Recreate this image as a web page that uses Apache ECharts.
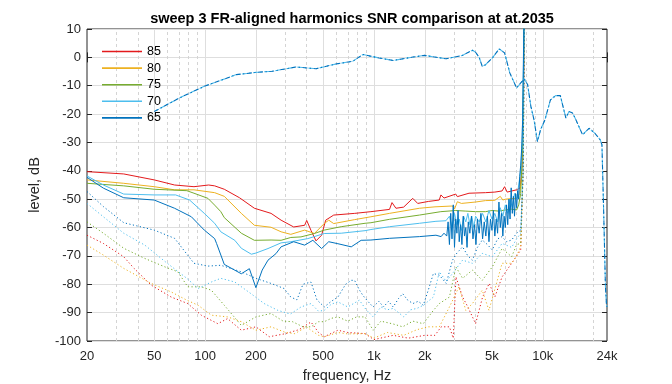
<!DOCTYPE html>
<html><head><meta charset="utf-8">
<script src="https://cdn.jsdelivr.net/npm/echarts@6/dist/echarts.min.js"></script>
<style>html,body{margin:0;padding:0;background:#fff}#c{width:672px;height:384px}</style>
</head><body><div id="c"></div>
<script>
// ---------- data ----------
const levels = ['85', '80', '75', '70', '65'];
const xTicks = [20, 50, 100, 200, 500, 1000, 2000, 5000, 10000, 24000];
const xTickLabels = ['20', '50', '100', '200', '500', '1k', '2k', '5k', '10k', '24k'];
const xMinorGrid = [30, 40, 60, 70, 80, 90, 300, 400, 600, 700, 800, 900, 3000, 4000, 6000, 7000, 8000, 9000, 20000];

const frResponse = [[50,-19.1],[70,-14.4],[99,-10.2],[153,-6.1],[200,-5.3],[250,-4.9],[345,-3.4],[454,-4],[600,-2.3],[748,-1.4],[860,1],[1070,-0.2],[1300,-1.1],[1700,0.1],[2000,0.7],[2670,-0.5],[3350,0.7],[3830,2.5],[4000,1.8],[4200,0],[4380,-3.2],[4580,-2.6],[5030,-0.2],[5520,3],[5940,1.6],[6380,-5.5],[7000,-10.8],[7400,-9],[7770,-7.6],[8130,-9.6],[8500,-17.3],[8870,-22],[9300,-29.7],[9700,-25.5],[10300,-22],[11100,-15],[11900,-13.5],[12700,-13.5],[13700,-21.4],[14300,-19.1],[15000,-19.6],[15700,-22],[17200,-27.3],[18800,-25],[20300,-26.7],[21900,-29.1],[22400,-30.8],[23000,-57.4],[23500,-81],[23800,-86.7],[24000,-88]];

const solid85 = [[20,-40.3],[33,-41.1],[50,-43.2],[66,-45],[86,-45.6],[105,-45],[114,-45.3],[130,-46.5],[160,-49.5],[196,-53.2],[246,-55],[282,-57.4],[335,-59.8],[389,-59.2],[400,-57.5],[424,-61],[454,-64.7],[490,-62.7],[518,-57.4],[578,-55.6],[770,-55],[960,-54.4],[1237,-53.6],[1280,-51.2],[1350,-53.2],[1500,-52.8],[1698,-49.7],[1817,-51.5],[2100,-50.8],[2437,-50.3],[2493,-48.5],[2600,-49.6],[3051,-48.2],[3120,-49.1],[3657,-47.9],[4578,-47.7],[5200,-47.5],[5740,-47.1],[5940,-45.6],[6150,-47.5],[7000,-46.7],[7350,-46],[7550,-38],[7700,-10],[7800,20]];
const solid80 = [[20,-43.2],[33,-44.4],[50,-45.6],[66,-46.7],[86,-46.7],[114,-47.7],[130,-49],[164,-55],[196,-59.2],[246,-59.9],[282,-61.5],[322,-62.4],[389,-60.9],[444,-62.1],[508,-58.6],[540,-57.4],[578,-58.6],[770,-57.2],[960,-56.2],[1237,-55],[1860,-53.2],[2300,-52.7],[2920,-52.4],[3000,-53.5],[3120,-50.9],[3300,-51.5],[4000,-51],[4578,-50.5],[5200,-50.4],[5600,-49],[5800,-50.3],[6000,-50],[6500,-49.8],[7000,-49.7],[7300,-48],[7500,-42],[7650,-20],[7750,20]];
const solid75 = [[20,-44.4],[33,-45.3],[50,-46.5],[78,-47],[86,-47.9],[104,-49.7],[114,-52.1],[124,-54.4],[130,-56.5],[164,-62],[196,-64.5],[246,-64.4],[282,-64.5],[322,-63.5],[370,-63.3],[444,-62.1],[508,-60.9],[640,-59.7],[886,-58.5],[960,-58.3],[1237,-57.1],[1860,-55.6],[2490,-54.4],[3051,-54],[3500,-54.2],[4000,-54.4],[4578,-54.4],[5000,-54],[5500,-54.2],[6000,-53.8],[6500,-53.5],[7000,-53.8],[7200,-52],[7400,-48],[7600,-30],[7750,10],[7800,20]];
const solid70 = [[20,-41.8],[25,-45],[33,-48.2],[50,-48.5],[67,-48.5],[81,-50.3],[99,-55],[114,-58.5],[124,-61.5],[150,-64.5],[164,-67.3],[188,-69.4],[200,-69],[236,-67.4],[282,-65.4],[322,-65],[406,-63.9],[508,-62.1],[640,-62],[886,-61.1],[960,-60.7],[1237,-59.7],[1860,-58.5],[2330,-57.8],[2670,-57.6],[2800,-56],[2900,-60],[3000,-55],[3100,-59],[3200,-57],[3300,-61],[3400,-56],[3500,-58],[3600,-55],[3700,-59],[3800,-56],[3900,-60],[4000,-56],[4200,-58],[4400,-55],[4600,-58],[4800,-54],[5000,-57],[5200,-55],[5400,-58],[5600,-53],[5800,-56],[6000,-52],[6200,-55],[6400,-50],[6600,-53],[6800,-48],[7000,-50],[7200,-45],[7400,-40],[7550,-30],[7700,0],[7780,20]];
const solid65 = [[20,-42.3],[25,-46.1],[33,-49.5],[50,-50.3],[66,-53.2],[83,-56.2],[99,-60.9],[114,-63.9],[117,-65.6],[130,-73],[164,-76.3],[183,-74.5],[200,-81.2],[218,-75],[236,-71.5],[263,-69.2],[282,-66.8],[335,-65],[389,-66.2],[435,-64.5],[490,-67.4],[540,-65],[612,-65.7],[734,-66.8],[840,-64.5],[960,-64.4],[1237,-63.8],[1860,-63.2],[2330,-62.7],[2500,-63.2],[2600,-62],[2700,-63],[2750,-58],[2800,-66],[2850,-55],[2900,-64],[2950,-52],[3000,-67],[3050,-57],[3100,-62],[3150,-54],[3200,-65],[3260,-59],[3320,-66],[3380,-56],[3440,-63],[3500,-60],[3560,-67],[3620,-58],[3700,-62],[3780,-56],[3860,-64],[3940,-59],[4020,-66],[4100,-57],[4200,-62],[4300,-55],[4400,-64],[4500,-58],[4600,-63],[4700,-56],[4800,-65],[4900,-57],[5000,-61],[5100,-54],[5200,-63],[5300,-57],[5400,-62],[5500,-51],[5600,-60],[5700,-55],[5800,-63],[5900,-56],[6000,-60],[6100,-52],[6200,-59],[6300,-50],[6400,-57],[6500,-46],[6600,-55],[6700,-49],[6800,-56],[6900,-48],[7000,-53],[7100,-47],[7200,-50],[7300,-42],[7400,-38],[7500,-32],[7600,-22],[7700,5],[7750,20]];

const dotted85 = [[20,-62.7],[25,-65.6],[33,-70.3],[38,-74.4],[48,-80.3],[63,-84.5],[79,-86.8],[95,-90.9],[119,-93.9],[136,-92.1],[164,-96.2],[200,-95],[240,-98.5],[300,-97.4],[360,-96],[424,-93.3],[470,-97],[508,-98.5],[612,-96.2],[700,-97],[886,-97.4],[1000,-99.5],[1300,-98],[1600,-99],[2000,-98],[2300,-98],[2500,-95],[2800,-95],[2950,-99],[3060,-77.4],[3350,-84.5],[3600,-88],[4000,-93.9],[4400,-84.5],[4820,-79.7],[5200,-84.5],[5740,-77.4],[6540,-72.6],[7000,-70],[7400,-67.9],[7650,-40],[7800,20]];
const dotted80 = [[20,-66.2],[25,-69.7],[33,-74.4],[48,-79.7],[63,-82.7],[78,-85.6],[91,-87.4],[109,-90.9],[136,-91.5],[164,-93.2],[200,-96.2],[246,-95],[300,-97],[340,-97.4],[400,-95],[424,-96.2],[470,-98],[508,-98.5],[612,-97],[700,-97.5],[886,-97.4],[1000,-99],[1200,-97],[1500,-98],[1800,-96],[2100,-95],[2440,-95],[2800,-88],[3190,-80.9],[3500,-89.2],[3830,-86.8],[4380,-82.1],[4800,-89.2],[5740,-72.6],[6540,-72.6],[7000,-70],[7400,-66.7],[7650,-40],[7800,20]];
const dotted75 = [[20,-58],[25,-62],[33,-67.3],[44,-70.9],[58,-73.9],[69,-75.6],[79,-80.9],[95,-80.9],[109,-82.1],[130,-87.4],[164,-94.5],[200,-91.5],[246,-90.3],[290,-93],[330,-93.2],[380,-95],[424,-95],[470,-93.2],[508,-93.2],[560,-92],[612,-91.5],[700,-93],[790,-91.5],[886,-91.5],[990,-96.2],[1100,-93],[1300,-94],[1480,-95],[1700,-93],[1960,-93.9],[2250,-89.2],[2440,-86.8],[2800,-84.5],[3060,-73.9],[3350,-77.9],[3830,-75],[4380,-78.6],[5020,-73.9],[5740,-67.4],[6540,-70.3],[7000,-66],[7400,-65.6],[7650,-40],[7800,20]];
const dotted70 = [[20,-51.5],[25,-56.2],[33,-62],[44,-66.2],[58,-72],[78,-77.9],[91,-81.5],[109,-79.2],[124,-77.9],[150,-79.2],[187,-83.3],[224,-86.8],[270,-89.2],[320,-90.5],[370,-88],[424,-86.8],[470,-89.5],[508,-89.2],[560,-87],[612,-86.2],[700,-88],[820,-85.6],[900,-89],[990,-91.5],[1100,-88],[1200,-89],[1300,-88.5],[1400,-90],[1500,-91.5],[1650,-89],[1800,-88.5],[1960,-87.4],[2250,-84.5],[2440,-75.6],[2680,-79],[2920,-76.2],[3350,-71.5],[3830,-72.6],[4380,-69.1],[5020,-70.3],[5740,-65.6],[6540,-67],[7000,-64],[7400,-62],[7650,-40],[7800,20]];
const dotted65 = [[20,-47.3],[25,-52.6],[33,-58.3],[50,-60.9],[66,-63.8],[86,-72.6],[104,-73.6],[124,-73.3],[164,-75.6],[200,-77.9],[246,-79.7],[294,-81.5],[322,-84.5],[350,-85.5],[380,-80],[424,-79.2],[460,-85.5],[508,-88],[560,-86],[612,-84.5],[680,-80],[734,-78.6],[768,-78.6],[820,-82],[860,-83.9],[920,-86],[989,-88],[1070,-86],[1140,-88],[1220,-86],[1300,-88],[1400,-85],[1480,-83.3],[1580,-85.5],[1700,-86.8],[1830,-86],[1960,-87.4],[2100,-82],[2250,-76.2],[2440,-76.8],[2680,-79.7],[2920,-71.5],[3100,-69],[3350,-66.8],[3600,-70],[3830,-71.5],[4100,-67],[4380,-64.4],[4700,-66],[5020,-67.9],[5400,-64],[5740,-63.2],[6100,-65],[6540,-64.4],[7000,-62],[7400,-60.9],[7650,-40],[7800,20]];

// ---------- style ----------
const colors = ['#E31A1C', '#EDB120', '#77AC30', '#4DBEEE', '#0072BD'];
const solidData = [solid85, solid80, solid75, solid70, solid65];
const dottedData = [dotted85, dotted80, dotted75, dotted70, dotted65];
const FONT = 'Liberation Sans, Arial, sans-serif';
const INK = '#262626';
const tickLabelMap = {};
xTicks.forEach((v, i) => { tickLabelMap[v] = xTickLabels[i]; });

const series = [];
series.push({
  type: 'line', name: 'gridMajor', data: [], silent: true, animation: false,
  markLine: { z: 1, silent: true, symbol: 'none', animation: false, label: { show: false },
    lineStyle: { color: '#dedede', width: 1, type: 'solid' }, emphasis: { disabled: true },
    data: xTicks.slice(1, -1).map(v => ({ xAxis: v })) }
});
series.push({
  type: 'line', name: 'gridMinor', data: [], silent: true, animation: false,
  markLine: { z: 1, silent: true, symbol: 'none', animation: false, label: { show: false },
    lineStyle: { color: '#d4d4d4', width: 1, type: [3, 3] }, emphasis: { disabled: true },
    data: xMinorGrid.map(v => ({ xAxis: v })) }
});
levels.forEach((lv, i) => {
  series.push({ name: lv, type: 'line', data: solidData[i], symbol: 'none', showSymbol: false, z: 3,
    lineStyle: { color: colors[i], width: 1 }, itemStyle: { color: colors[i] } });
  series.push({ name: 'harm' + lv, type: 'line', data: dottedData[i], symbol: 'none', showSymbol: false, z: 3,
    lineStyle: { color: colors[i], width: 1, type: [1.2, 2.4] }, itemStyle: { color: colors[i] } });
});
series.push({ name: 'fr70', type: 'line', data: frResponse, symbol: 'none', z: 3,
  lineStyle: { color: colors[3], width: 1.1, type: [5, 2.5, 1.2, 2.5], dashOffset: 5 } });
series.push({ name: 'fr65', type: 'line', data: frResponse, symbol: 'none', z: 3,
  lineStyle: { color: colors[4], width: 1.1, type: [5, 2.5, 1.2, 2.5] } });

const chart = echarts.init(document.getElementById('c'), null, { renderer: 'canvas' });
chart.setOption({
  animation: false,
  backgroundColor: '#fff',
  title: {
    text: 'sweep 3 FR-aligned harmonics SNR comparison at at.2035',
    left: 347, top: 6, textAlign: 'center',
    textStyle: { fontFamily: FONT, fontSize: 14.5, fontWeight: 'bold', color: '#000' }
  },
  grid: { left: 87, right: 65, top: 29, bottom: 43, show: true, borderColor: INK, borderWidth: 1,
    backgroundColor: '#fff', containLabel: false, outerBoundsMode: 'none' },
  legend: {
    data: levels, orient: 'vertical', left: 102, top: 45, padding: 0,
    icon: 'rect', itemWidth: 40, itemHeight: 1.6, itemGap: 3.6,
    textStyle: { fontFamily: FONT, fontSize: 12.5, color: '#000' }, selectedMode: false
  },
  xAxis: [{
    type: 'log', logBase: 10, min: 20, max: 24000, position: 'bottom',
    name: 'frequency, Hz', nameLocation: 'middle', nameGap: 27,
    nameTextStyle: { fontFamily: FONT, fontSize: 14.5, color: INK },
    axisLine: { show: false },
    axisTick: { show: true, inside: true, length: 5, lineStyle: { color: INK }, customValues: xTicks },
    axisLabel: { show: true, margin: 9, fontFamily: FONT, fontSize: 13, color: INK, customValues: xTicks,
      formatter: v => tickLabelMap[Math.round(v)] || '' },
    splitLine: { show: false }
  }, {
    type: 'log', logBase: 10, min: 20, max: 24000, position: 'top',
    axisLine: { show: false },
    axisTick: { show: true, inside: true, length: 5, lineStyle: { color: INK }, customValues: xTicks },
    axisLabel: { show: false }, splitLine: { show: false }
  }],
  yAxis: [{
    type: 'value', min: -100, max: 10, interval: 10, position: 'left',
    name: 'level, dB', nameLocation: 'middle', nameGap: 45,
    nameTextStyle: { fontFamily: FONT, fontSize: 14.5, color: INK },
    axisLine: { show: false },
    axisTick: { show: true, inside: true, length: 5, lineStyle: { color: INK } },
    axisLabel: { margin: 6, fontFamily: FONT, fontSize: 13, color: INK },
    splitLine: { show: true, lineStyle: { color: '#dedede', width: 1 } }
  }, {
    type: 'value', min: -100, max: 10, interval: 10, position: 'right',
    axisLine: { show: false },
    axisTick: { show: true, inside: true, length: 5, lineStyle: { color: INK } },
    axisLabel: { show: false }, splitLine: { show: false }
  }],
  series: series
});
</script>
</body></html>
